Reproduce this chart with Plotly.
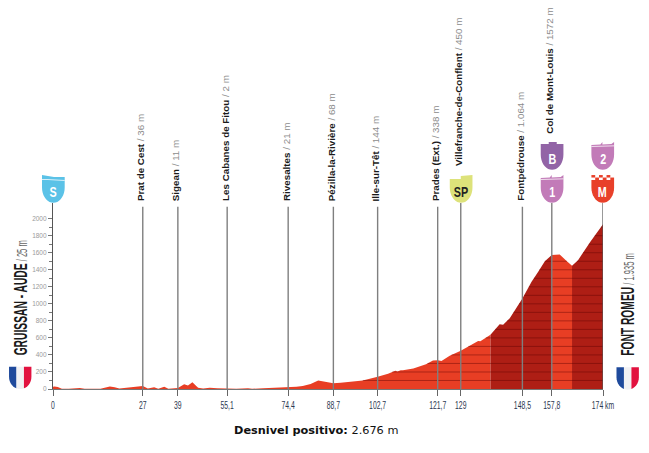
import numpy as np
import plotly.graph_objects as go

# elevation profile
profile_km = [0, 0.5, 1.5, 2.8, 5, 7.5, 8.5, 10, 13, 15, 18, 19.5, 21, 24, 26.5, 28.4, 30, 32, 33.3, 35.2,
              36.5, 39.5, 41.5, 42.7, 44.1, 45.9, 47.5, 49.6, 52, 55.1, 58, 61.7, 63, 66.5, 70, 74.4, 77,
              79, 81.5, 83.9, 86.5, 88.7, 91, 93.9, 98, 102.7, 106, 108.3, 109, 110, 110.7, 114, 118,
              120.2, 121.7, 122.9, 125.5, 129, 131, 133, 134.5, 135.2, 138.4, 141.3, 142.4, 144.5, 148.5,
              151.4, 153.5, 155.6, 157.8, 160.3, 162.4, 164.2, 166.1, 170, 174]
profile_m = [25, 30, 24, 4, 3, 12, 12, 3, 4, 3, 30, 22, 5, 15, 30, 36, 5, 20, 3, 25,
             3, 11, 55, 40, 80, 15, 6, 15, 8, 2, 3, 8, 3, 8, 12, 21, 25,
             35, 60, 100, 80, 68, 72, 85, 100, 144, 180, 215, 205, 220, 220, 240, 290,
             335, 338, 330, 390, 450, 490, 540, 565, 560, 636, 760, 753, 830, 1064,
             1260, 1377, 1500, 1572, 1580, 1505, 1447, 1513, 1730, 1935]

# climbs drawn darker
climb_km = [(138.4, 157.8), (164.2, 174)]
flat_km = [(0, 138.4), (157.8, 164.2)]

town_names = ["Prat de Cest", "Sigean", "Les Cabanes de Fitou", "Rivesaltes", "Pézilla-la-Rivière",
              "Ille-sur-Têt", "Prades (Ext.)", "Villefranche-de-Conflent", "Fontpédrouse", "Col de Mont-Louis"]
town_elev = ["36 m", "11 m", "2 m", "21 m", "68 m", "144 m", "338 m", "450 m", "1.064 m", "1572 m"]
town_km = [28.4, 39.5, 55.1, 74.4, 88.7, 102.7, 121.7, 129, 148.5, 157.8]
label_bottom_px = [203, 203, 203, 203, 203, 203, 203, 168.5, 203, 136]

tick_km = [0, 28.4, 39.5, 55.1, 74.4, 88.7, 102.7, 121.7, 129, 148.5, 157.8, 174]
tick_labels = ["0", "27", "39", "55,1", "74,4", "88,7", "102,7", "121,7", "129", "148,5", "157,8", "174 km"]
y_ticks = list(range(0, 2001, 200))
y_minor = list(range(100, 2000, 200))

RED = "#E83E24"
DARK = "#AE1E15"
# the page adds 8px of body margin, W/H/L/T below are positions on the final page
PAGE = 8
W, H = 649, 453
L, R, T, B = 53, 45.7, 203, 63.7
SANS = "Liberation Sans"


def px(x):
    return (x - L) / (W - L - R)


def py(y):
    return (H - B - y) / (H - T - B)


def poly(points, color):
    d = "M " + " L ".join(f"{px(x):.5f},{py(y):.5f}" for x, y in points) + " Z"
    return dict(type="path", path=d, xref="paper", yref="paper", fillcolor=color,
                line=dict(width=0), layer="above")


def shield_edge(x0, x1, y0, y1):
    # rounded bottom of the badges, sampled along an ellipse
    cx = (x0 + x1) / 2
    rx = (x1 - x0) / 2
    ry = (y1 - y0) * 0.55
    yc = y1 - ry
    t = np.linspace(0, np.pi, 19)
    return [(cx + rx * np.cos(a), yc + ry * np.sin(a)) for a in t], yc


def badge(x0, y0, color, top="teeth", w=22.7, h=27.8):
    x1 = x0 + w
    y1 = y0 + h
    edge, yc = shield_edge(x0, x1, y0, y1)
    out = []
    if top == "teeth":
        pts = [(x0, y0 + 3), (x0 + 9, y0 + 2.5), (x0 + 11, y0), (x0 + 11, y0 + 2.5),
               (x0 + 20, y0 + 2), (x1, y0), (x1, y0 + 3)]
    elif top == "flat":
        pts = [(x0, y0 + 2), (x0 + 8, y0 + 2), (x0 + 8, y0), (x0 + 16, y0), (x0 + 16, y0 + 2), (x1, y0 + 2)]
    elif top == "sp":
        pts = [(x0, y0 + 4), (x0 + 11, y0 + 4), (x0 + 11, y0 + 1), (x1, y0), (x1, y0 + 4)]
    elif top == "swoosh":
        pts = [(x0, y0), (x0 + 12, y0 + 2), (x1, y0 + 2), (x1, y0 + 4)]
    else:
        pts = [(x0, y0 + 5), (x1, y0 + 5)]
    # edge runs right to left along the bottom
    out.append(poly(pts + edge, color))
    if top == "teeth":
        out.append(poly([(x0, y0 + 4), (x1, y0 + 3.5), (x1, y0 + 4.2), (x0, y0 + 4.7)], "white"))
    if top == "swoosh":
        out.append(poly([(x0, y0 + 4), (x1, y0 + 5), (x1, y0 + 5.7), (x0, y0 + 4.7)], "white"))
    if top == "check":
        size = w / 6
        for row in range(2):
            for i in range(6):
                if (i + row) % 2 == 0:
                    xa = x0 + i * size
                    ya = y0 + row * 2.5
                    out.append(poly([(xa, ya), (xa + size, ya), (xa + size, ya + 2.5), (xa, ya + 2.5)], color))
    return out


def flag(x0, y0, w=22.4, h=22.4):
    x1 = x0 + w
    y1 = y0 + h
    edge, yc = shield_edge(x0, x1, y0, y1)
    third = w / 3
    left = [p for p in edge if p[0] <= x0 + third]
    mid = [p for p in edge if x0 + third <= p[0] <= x0 + 2 * third]
    right = [p for p in edge if p[0] >= x0 + 2 * third]
    bottom_l = left[0][1]
    bottom_r = right[-1][1]
    return [
        poly([(x0 + third, y0), (x0, y0)] + left[::-1] + [(x0 + third, bottom_l)], "#1F4A9C"),
        poly([(x0 + third, y0), (x0 + 2 * third, y0), (x0 + 2 * third, bottom_r)] + mid + [(x0 + third, bottom_l)], "#F1F1F3"),
        poly([(x0 + 2 * third, y0), (x1, y0)] + right + [(x0 + 2 * third, bottom_r)], "#E2123F"),
    ]


km = np.array(profile_km, dtype=float)
elev = np.array(profile_m, dtype=float)

fig = go.Figure()

for spans, color in ((flat_km, RED), (climb_km, DARK)):
    for a, b in spans:
        mask = (km >= a) & (km <= b)
        fig.add_trace(go.Scatter(x=km[mask], y=elev[mask], mode="lines", fill="tozeroy",
                                 fillcolor=color, line=dict(width=0, color=color), hoverinfo="skip"))

# darker bands every 100 m, only inside the profile
band_x, band_y = [], []
fine = np.unique(np.concatenate([km, np.arange(0, 174.01, 0.05)]))
fine_elev = np.interp(fine, km, elev)
for level in range(100, 2000, 100):
    inside = fine_elev >= level
    for i, v in enumerate(fine):
        if inside[i]:
            band_x.append(v)
            band_y.append(level)
        elif band_x and band_x[-1] is not None:
            band_x.append(None)
            band_y.append(None)
    band_x.append(None)
    band_y.append(None)
fig.add_trace(go.Scatter(x=band_x, y=band_y, mode="lines", line=dict(color="rgba(90,0,0,0.42)", width=1),
                         hoverinfo="skip"))

# town poles
town_tops = [2140, 2140, 2140, 2140, 2140, 2140, 2140, 2184, 2140, 2184]
for k, top in zip(town_km, town_tops):
    fig.add_trace(go.Scatter(x=[k, k], y=[0, top], mode="lines", line=dict(color="#7f7f7f", width=1.4),
                             hoverinfo="skip"))
fig.add_trace(go.Scatter(x=[174, 174], y=[0, 2184], mode="lines", line=dict(color="#555555", width=1.2),
                         hoverinfo="skip"))

shapes = []
shapes += badge(42, 175, "#5BC2E7", "swoosh")
shapes += badge(450, 175, "#DDE27A", "sp")
shapes += badge(541, 142, "#9264A6", "flat")
shapes += badge(541, 175, "#C27BB8", "teeth")
shapes += badge(591.7, 142, "#C27BB8", "teeth")
shapes += badge(591.7, 175, "#E8402A", "check")
shapes += flag(9, 367)
shapes += flag(616.8, 367.6)

annotations = []
for name, el, k, bottom in zip(town_names, town_elev, town_km, label_bottom_px):
    annotations.append(dict(
        x=k, xref="x", y=py(bottom), yref="paper", xanchor="center", yanchor="bottom", xshift=-2.2,
        textangle=-90, showarrow=False,
        text=f"<b>{name}</b> <span style='color:#8c8c8c'>/ {el}</span>",
        font=dict(family=SANS, size=9.8, color="#1a1a1a"),
    ))

for text, x, y, color in (("S", 53.3, 191, "white"), ("SP", 461.3, 191, "#222222"),
                          ("B", 552.3, 158, "white"), ("1", 552.3, 191, "white"),
                          ("2", 603, 158, "white"), ("M", 603, 191, "white")):
    annotations.append(dict(x=px(x), y=py(y), xref="paper", yref="paper", xanchor="center", yanchor="middle",
                            text=f"<b>{text}</b>", showarrow=False,
                            font=dict(family=SANS, size=15, color=color)))

annotations.append(dict(
    x=px(20), y=py(298.5), xref="paper", yref="paper", xanchor="center", yanchor="middle", textangle=-90,
    showarrow=False, font=dict(family=SANS, size=19, color="#1a1a1a"),
    text="<b>GRUISSAN - AUDE</b><span style='font-size:14px;color:#666666'> / 25 m</span>",
))
annotations.append(dict(
    x=px(628), y=py(305), xref="paper", yref="paper", xanchor="center", yanchor="middle", textangle=-90,
    showarrow=False, font=dict(family=SANS, size=19, color="#1a1a1a"),
    text="<b>FONT ROMEU</b><span style='font-size:14px;color:#666666'> / 1.935 m</span>",
))
annotations.append(dict(
    x=px(232), y=py(431), xref="paper", yref="paper", xanchor="left", yanchor="middle", showarrow=False,
    font=dict(family="DejaVu Sans", size=11.3, color="#111111"),
    text="<b>Desnivel positivo:</b> 2.676 m",
))

fig.update_layout(
    width=W - PAGE, height=H - PAGE,
    margin=dict(l=L - PAGE, r=R, t=T - PAGE, b=B, autoexpand=False),
    paper_bgcolor="white", plot_bgcolor="white",
    showlegend=False,
    shapes=shapes, annotations=annotations,
    xaxis=dict(range=[0, 174], showgrid=False, zeroline=False, showline=True, linecolor="#777777", linewidth=1.2,
               tickvals=tick_km, ticktext=tick_labels, ticks="outside", ticklen=6, tickcolor="#666666",
               tickangle=0, tickfont=dict(family=SANS, size=11, color="#2b3750")),
    yaxis=dict(range=[0, 2184], showgrid=False, zeroline=False, showline=True, linecolor="#555555", linewidth=1.2,
               tickvals=y_ticks, ticks="outside", ticklen=4, tickcolor="#777777", tickwidth=0.8,
               tickfont=dict(family=SANS, size=6.5, color="#9a9a9a"),
               minor=dict(tickvals=y_minor, ticks="outside", ticklen=2.5, tickcolor="#777777", tickwidth=0.8)),
)

# no condensed font is installed, so squeeze those labels horizontally along their run
squeeze = """
function squeeze(el, f) {
    el.setAttribute('textLength', el.getComputedTextLength() * f);
    el.setAttribute('lengthAdjust', 'spacingAndGlyphs');
}
document.querySelectorAll('.xtick text').forEach(function (t) { squeeze(t, 0.62); });
document.querySelectorAll('.annotation-text').forEach(function (t) {
    var s = t.textContent;
    if (s.indexOf('GRUISSAN') === 0 || s.indexOf('FONT ROMEU') === 0) { squeeze(t, 0.54); }
    if (['S', 'SP', 'B', '1', '2', 'M'].indexOf(s) >= 0) { squeeze(t, 0.72); }
});
"""
fig.write_html("out.html", post_script=squeeze)
